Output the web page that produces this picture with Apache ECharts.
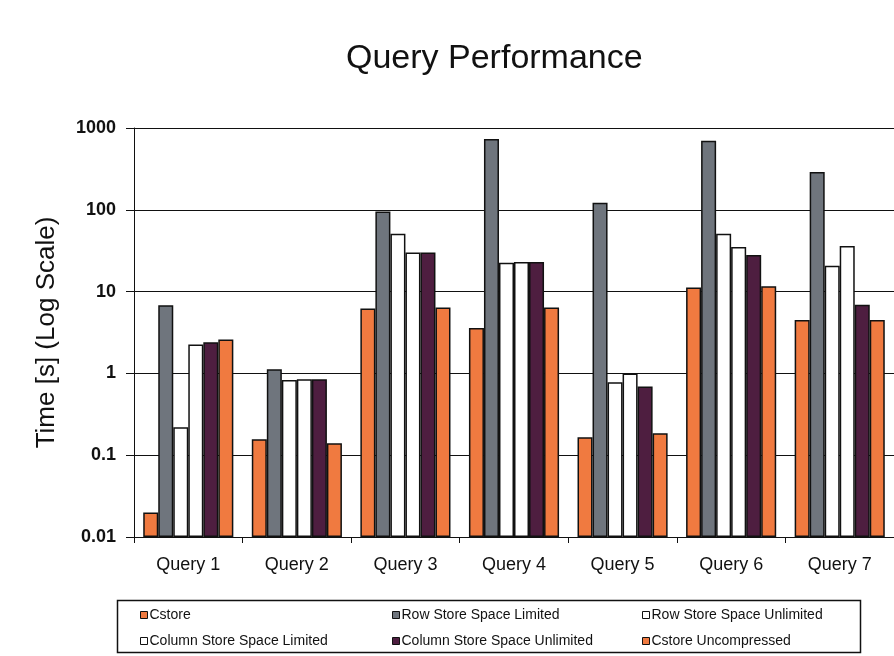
<!DOCTYPE html>
<html>
<head>
<meta charset="utf-8">
<script src="https://cdn.jsdelivr.net/npm/echarts@6/dist/echarts.min.js"></script>
<style>
  html, body { margin: 0; padding: 0; background: #fff; }
  #chart { width: 894px; height: 656px; }
</style>
</head>
<body>
<div id="chart"></div>
<script>
var queries = ['Query 1', 'Query 2', 'Query 3', 'Query 4', 'Query 5', 'Query 6', 'Query 7'];

// seconds
var cstore        = [0.02, 0.157, 6.2, 3.6, 0.166, 11.2, 4.5];
var rowLimited    = [6.8, 1.12, 95, 735, 122, 700, 290];
var rowUnlimited  = [0.22, 0.83, 51, 22.6, 0.78, 51, 20.7];
var colLimited    = [2.25, 0.85, 30, 23, 1.0, 35, 36];
var colUnlimited  = [2.4, 0.85, 30, 23, 0.69, 28, 6.9];
var cstoreUncomp  = [2.6, 0.14, 6.4, 6.4, 0.186, 11.6, 4.5];

var names = ['Cstore', 'Row Store Space Limited', 'Row Store Space Unlimited',
    'Column Store Space Limited', 'Column Store Space Unlimited', 'Cstore Uncompressed'];
var colors = ['#f07a40', '#6f757d', '#ffffff', '#ffffff', '#4e1e40', '#f07a40'];
var values = [cstore, rowLimited, rowUnlimited, colLimited, colUnlimited, cstoreUncomp];

var font = 'Arial, "Liberation Sans", sans-serif';

function makeSeries(i) {
    return {
        name: names[i],
        type: 'bar',
        data: values[i],
        barGap: '0%',
        barCategoryGap: '17%',
        animation: false,
        itemStyle: {
            color: colors[i],
            borderColor: '#111',
            borderWidth: 1.5
        }
    };
}

function makeLegend(items, left) {
    return {
        data: items,
        orient: 'vertical',
        left: left,
        top: 608,
        padding: 0,
        itemGap: 12,
        itemWidth: 7,
        itemHeight: 7,
        icon: 'rect',
        itemStyle: { borderColor: '#111', borderWidth: 1 },
        textStyle: { fontFamily: font, fontSize: 14, color: '#111', padding: [0, 0, 0, -3] },
        selectedMode: false
    };
}

var chart = echarts.init(document.getElementById('chart'));
var series = [];
for (var i = 0; i < names.length; i++) {
    series.push(makeSeries(i));
}

var option = {
    backgroundColor: '#fff',
    title: {
        text: 'Query Performance',
        left: 341,
        top: 37,
        textStyle: { fontFamily: font, fontSize: 34, fontWeight: 'normal', color: '#111' }
    },
    legend: [
        makeLegend([names[0], names[3]], 140),
        makeLegend([names[1], names[4]], 392),
        makeLegend([names[2], names[5]], 642)
    ],
    grid: { left: 134, top: 128, width: 768, height: 409 },
    xAxis: {
        type: 'category',
        data: queries,
        axisLine: { lineStyle: { color: '#111', width: 1 } },
        axisTick: { show: true, length: 6, lineStyle: { color: '#111' } },
        axisLabel: { fontFamily: font, fontSize: 18, color: '#111', margin: 19 }
    },
    yAxis: {
        type: 'log',
        logBase: 10,
        min: 0.01,
        max: 1000,
        startValue: 0.01,
        name: 'Time [s] (Log Scale)',
        nameLocation: 'middle',
        nameRotate: 90,
        nameGap: 74,
        nameTextStyle: { fontFamily: font, fontSize: 26, color: '#111' },
        axisLine: { show: true, lineStyle: { color: '#111', width: 1 } },
        axisTick: { show: true, length: 8, lineStyle: { color: '#111' } },
        axisLabel: {
            fontFamily: font, fontSize: 18, fontWeight: 'bold', color: '#111', margin: 18,
            formatter: function(v) { return String(v); }
        },
        splitLine: { show: true, lineStyle: { color: '#111', width: 1 } }
    },
    graphic: [{
        type: 'rect',
        shape: { x: 117.5, y: 600.5, width: 743, height: 52 },
        style: { fill: 'none', stroke: '#111', lineWidth: 1.5 },
        silent: true
    }],
    series: series
};

chart.setOption(option);
</script>
</body>
</html>
